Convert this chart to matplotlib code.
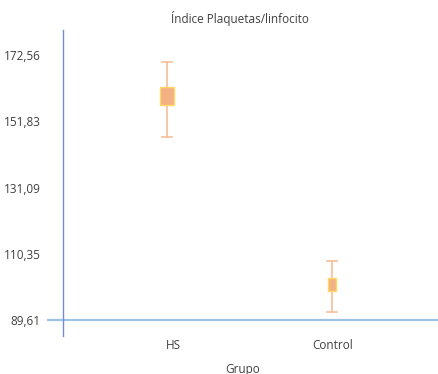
import matplotlib.pyplot as plt

grupos = ['HS', 'Control']
alto = [170.4, 108.2]
caja_sup = [162.5, 102.9]
caja_inf = [156.9, 98.8]
bajo = [146.9, 92.1]
yticks = [89.61, 110.35, 131.09, 151.83, 172.56]
ytick_labels = ['89,61', '110,35', '131,09', '151,83', '172,56']

plt.rcParams['font.family'] = ['Open Sans', 'DejaVu Sans']

fig = plt.figure(figsize=(4.38, 3.74), dpi=100)
ax = fig.add_axes([63 / 438, 38 / 374, 375 / 438, 306 / 374])

x = [0, 1]
anchos = [0.085, 0.05]
for i in range(len(grupos)):
    ax.plot([x[i], x[i]], [bajo[i], alto[i]], color='#F6BE98', lw=1.2, zorder=2)
    for v in (alto[i], bajo[i]):
        ax.plot([x[i] - 0.03, x[i] + 0.03], [v, v], color='#F6BE98', lw=1.2, zorder=2)
    ax.bar(x[i], caja_sup[i] - caja_inf[i], bottom=caja_inf[i], width=anchos[i],
           color='#F4B183', edgecolor='#FFD966', lw=1, zorder=3)

ax.set_xlim(-0.63, 1.64)
ax.set_ylim(84.6, 180.4)
ax.axhline(89.61, xmin=-0.04, xmax=1, color='#9DC3E6', lw=1.6, clip_on=False, zorder=1)

for s in ['top', 'right', 'bottom']:
    ax.spines[s].set_visible(False)
ax.spines['left'].set_color('#6F8FC9')
ax.spines['left'].set_linewidth(1)

ax.set_yticks(yticks)
ax.set_yticklabels(ytick_labels, fontsize=8.5, color='#404040')
ax.tick_params(axis='y', length=0, pad=16)
ax.set_xticks([0.04, 1.0])
ax.set_xticklabels(grupos, fontsize=8.5, color='#404040')
ax.tick_params(axis='x', length=0, pad=2)

fig.text(240 / 438, 1 - 18 / 374, 'Índice Plaquetas/linfocito', ha='center', va='center',
         fontsize=8.5, color='#404040')
fig.text(243 / 438, 1 - 369 / 374, 'Grupo', ha='center', va='center', fontsize=8.5, color='#404040')

fig.savefig('out.png', dpi=100)
